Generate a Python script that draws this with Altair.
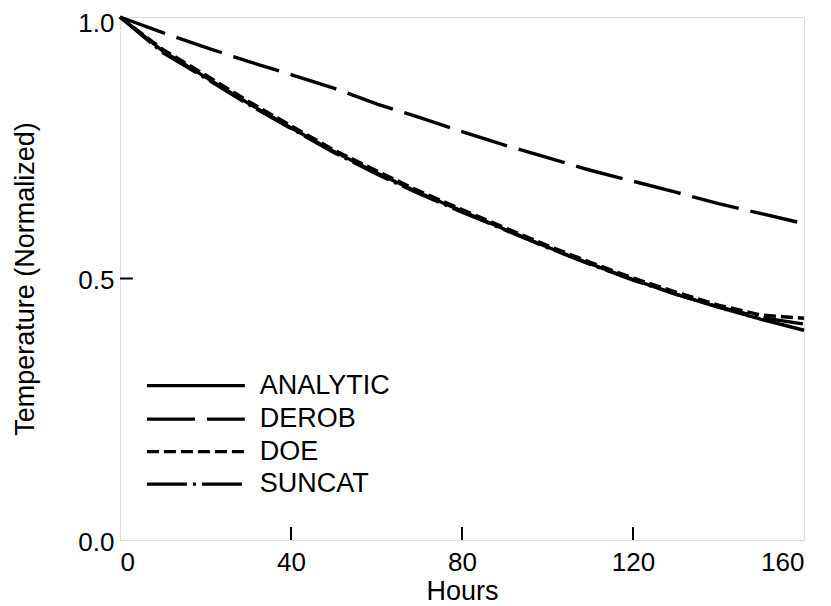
import altair as alt
import pandas as pd

# ---- data ----
hours = [0, 10, 20, 30, 40, 50, 60, 70, 80, 90, 100, 110, 120, 130, 140, 150, 160]
analytic = [1.0, 0.935, 0.885, 0.835, 0.788, 0.743, 0.702, 0.664, 0.629, 0.594, 0.560, 0.528, 0.498, 0.470, 0.445, 0.422, 0.401]
derob = [1.0, 0.970, 0.942, 0.915, 0.890, 0.864, 0.834, 0.808, 0.781, 0.755, 0.731, 0.707, 0.686, 0.665, 0.643, 0.624, 0.605]
doe = [1.0, 0.938, 0.889, 0.839, 0.792, 0.746, 0.706, 0.667, 0.632, 0.597, 0.563, 0.531, 0.501, 0.474, 0.449, 0.430, 0.424]
suncat = [1.0, 0.932, 0.883, 0.833, 0.787, 0.741, 0.700, 0.662, 0.627, 0.593, 0.559, 0.527, 0.497, 0.470, 0.446, 0.425, 0.413]

series_names = ["ANALYTIC", "DEROB", "DOE", "SUNCAT"]
series_values = [analytic, derob, doe, suncat]

x_ticks = [0, 40, 80, 120, 160]
y_ticks = [0.0, 0.5, 1.0]
inner_x_ticks = [40, 80, 120]
inner_y_ticks = [0.5]

# ---- styles / layout ----
FONT = "Liberation Sans"
dashes = [[1, 0], [48, 12], [12, 5], [40, 6, 3, 6]]
W, H = 684, 523
# legend layout (data units)
LEG_X0, LEG_X1, LEG_TX = 6.3, 29.2, 32.7
LEG_Y = [0.295, 0.231, 0.169, 0.107]

rows = []
for name, vals in zip(series_names, series_values):
    for h, v in zip(hours, vals):
        rows.append({"Hours": h, "T": v, "series": name})
df = pd.DataFrame(rows)

xs = alt.Scale(domain=[0, 160], nice=False, zero=False)
ys = alt.Scale(domain=[0, 1], nice=False)
dash_scale = alt.Scale(domain=series_names, range=dashes)

lines = alt.Chart(df).mark_line(color="black", strokeWidth=3.4).encode(
    x=alt.X("Hours:Q", scale=xs,
            axis=alt.Axis(values=x_ticks, title="Hours", grid=False, ticks=False, domain=False,
                          labelFontSize=26, labelFont=FONT, labelColor="black", labelPadding=9,
                          titleFont=FONT, titleFontSize=27, titleFontWeight="normal",
                          titleColor="black", titlePadding=3)),
    y=alt.Y("T:Q", scale=ys,
            axis=alt.Axis(values=y_ticks, format=".1f", title="Temperature (Normalized)",
                          grid=False, ticks=False, domain=False,
                          labelFontSize=26, labelFont=FONT, labelColor="black", labelPadding=6,
                          labelOffset={"condition": {"test": "datum.value == 1", "value": 6}, "value": 2},
                          titleFont=FONT, titleFontSize=27, titleFontWeight="normal",
                          titleColor="black", titlePadding=38)),
    strokeDash=alt.StrokeDash("series:N", scale=dash_scale, legend=None),
    detail="series:N",
)

tx = pd.DataFrame({"x": inner_x_ticks, "y0": [0.0] * 3, "y1": [0.025] * 3})
ticks_x = alt.Chart(tx).mark_rule(color="black", strokeWidth=2).encode(
    x=alt.X("x:Q", scale=xs), y=alt.Y("y0:Q", scale=ys), y2="y1:Q")

ty = pd.DataFrame({"y": inner_y_ticks, "x0": [0.0], "x1": [3.0]})
ticks_y = alt.Chart(ty).mark_rule(color="black", strokeWidth=2).encode(
    y=alt.Y("y:Q", scale=ys), x=alt.X("x0:Q", scale=xs), x2="x1:Q")

leg = pd.DataFrame({"series": series_names, "y": LEG_Y,
                    "x0": [LEG_X0] * 4, "x1": [LEG_X1] * 4, "tx": [LEG_TX] * 4})
leg_lines = alt.Chart(leg).mark_rule(color="black", strokeWidth=3.2).encode(
    x=alt.X("x0:Q", scale=xs), x2="x1:Q", y=alt.Y("y:Q", scale=ys),
    strokeDash=alt.StrokeDash("series:N", scale=dash_scale, legend=None))
leg_text = alt.Chart(leg).mark_text(align="left", baseline="middle", font=FONT,
                                    fontSize=27, color="black").encode(
    x=alt.X("tx:Q", scale=xs), y=alt.Y("y:Q", scale=ys), text="series:N")

chart = alt.layer(lines, ticks_x, ticks_y, leg_lines, leg_text).properties(
    width=W, height=H,
    autosize=alt.AutoSizeParams(type="none"),
    padding={"left": 112, "top": 9, "right": 19, "bottom": 64},
).configure_view(stroke="black", strokeWidth=2.5).configure(background="white")

chart.save("out.html", embed_options={"renderer": "svg", "actions": False})
